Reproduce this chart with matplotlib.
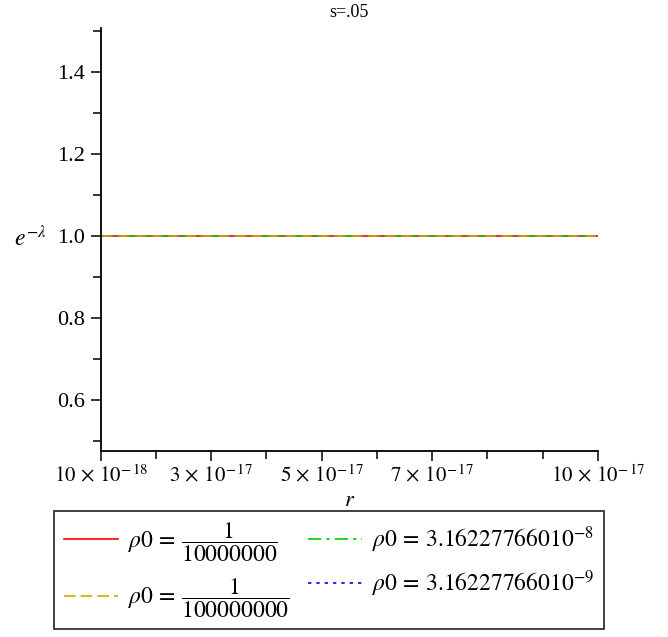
import matplotlib
matplotlib.use('Agg')
import matplotlib.pyplot as plt
import numpy as np
from matplotlib.ticker import FixedLocator, FixedFormatter

plt.rcParams['font.family'] = ['Liberation Serif', 'DejaVu Serif']
plt.rcParams['mathtext.fontset'] = 'stix'

# data: every curve is flat at 1.0
r = [1e-17, 1e-16]
e_lam_1e7 = [1.0, 1.0]
e_lam_1e8 = [1.0, 1.0]
e_lam_316e8 = [1.0, 1.0]
e_lam_316e9 = [1.0, 1.0]

labels = [r'$\mathit{\rho 0}\,=\,\dfrac{1}{10000000}$',
          r'$\mathit{\rho 0}\,=\,\dfrac{1}{100000000}$',
          r'$\mathit{\rho 0}\,=\,3.16227766010^{-8}$',
          r'$\mathit{\rho 0}\,=\,3.16227766010^{-9}$']

x_major = [1e-17, 3e-17, 5e-17, 7e-17, 1e-16]
x_major_labels = [r'$10\,\times\,10^{-\,18}$', r'$3\,\times\,10^{-\,17}$', r'$5\,\times\,10^{-\,17}$',
                  r'$7\,\times\,10^{-\,17}$', r'$10\,\times\,10^{-\,17}$']
x_minor = [2e-17, 4e-17, 6e-17, 8e-17, 9e-17]
y_major = [0.6, 0.8, 1.0, 1.2, 1.4]
y_minor = [0.5, 0.7, 0.9, 1.1, 1.3, 1.5]

fig = plt.figure(figsize=(6.68, 6.37), dpi=100)
ax = fig.add_axes([0.1507, 0.292, 0.8952 - 0.1507, 0.956 - 0.292])

l1, = ax.plot(r, e_lam_1e7, color='#ff0000', lw=1.2, label=labels[0])
l3, = ax.plot(r, e_lam_316e8, color='#00cc00', lw=1.2, ls=(0, (8, 3, 2, 3)), label=labels[2])
l4, = ax.plot(r, e_lam_316e9, color='#0000ff', lw=1.2, ls=(0, (2, 3)), label=labels[3])
l2, = ax.plot(r, e_lam_1e8, color='#e0a000', lw=1.2, ls=(0, (7, 3)), label=labels[1])

ax.set_xlim(1e-17, 1e-16)
ax.set_ylim(0.475, 1.507)

for s in ['top', 'right']:
    ax.spines[s].set_visible(False)
ax.spines['left'].set_linewidth(1.3)
ax.spines['bottom'].set_linewidth(1.3)

ax.xaxis.set_major_locator(FixedLocator(x_major))
ax.xaxis.set_major_formatter(FixedFormatter(x_major_labels))
ax.xaxis.set_minor_locator(FixedLocator(x_minor))
ax.yaxis.set_major_locator(FixedLocator(y_major))
ax.set_yticklabels(['0.6', '0.8', '1.0', '1.2', '1.4'])
ax.yaxis.set_minor_locator(FixedLocator(y_minor))

ax.tick_params(axis='both', which='major', labelsize=16, length=7.5, width=1.1, direction='out', pad=4)
ax.tick_params(axis='both', which='minor', length=5.5, width=1.1, direction='out')
ax.tick_params(axis='x', which='major', labelsize=15, pad=2)

ax.set_title('s=.05', fontsize=13, pad=8)
ax.set_xlabel(r'$r$', fontsize=16, labelpad=4)
fig.text(0.045, 0.625, r'$e^{-\lambda}$', fontsize=17, ha='center', va='center')

leg = fig.legend(handles=[l1, l2, l3, l4], loc='center', bbox_to_anchor=(0.4925, 0.105),
                 ncol=2, fontsize=17, frameon=True, fancybox=False, handlelength=2.3,
                 columnspacing=0.8, handletextpad=0.4, labelspacing=0.55, borderpad=0.4)
leg.get_frame().set_edgecolor('black')
leg.get_frame().set_linewidth(1.3)

fig.savefig('out.png', dpi=100)
